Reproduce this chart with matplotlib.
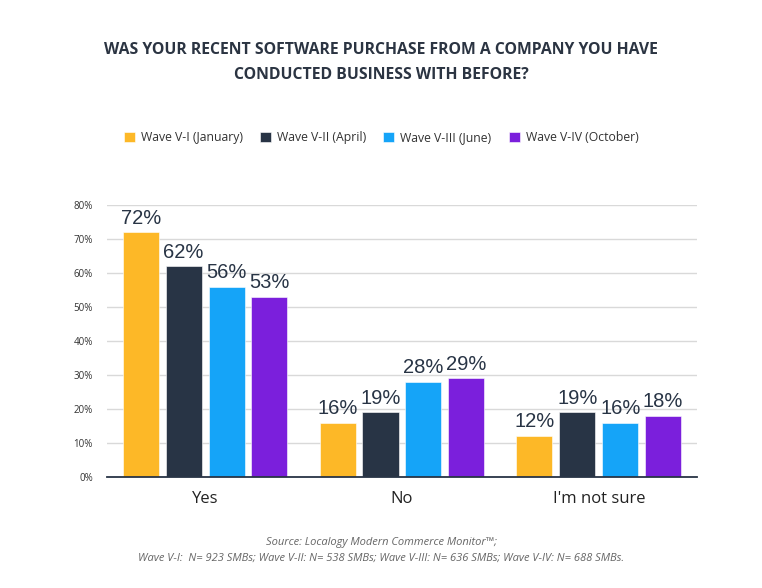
import matplotlib
matplotlib.use("Agg")
import matplotlib.pyplot as plt
import numpy as np

categories = ["Yes", "No", "I'm not sure"]
series_names = ["Wave V-I (January)", "Wave V-II (April)", "Wave V-III (June)", "Wave V-IV (October)"]
values = [
    [72, 16, 12],
    [62, 19, 19],
    [56, 28, 16],
    [53, 29, 18],
]
colors = ["#FDB827", "#283445", "#15A4F8", "#7B1FDC"]
yticks = [0, 10, 20, 30, 40, 50, 60, 70, 80]
title = "WAS YOUR RECENT SOFTWARE PURCHASE FROM A COMPANY YOU HAVE\nCONDUCTED BUSINESS WITH BEFORE?"
source1 = "Source: Localogy Modern Commerce Monitor\u2122;"
source2 = "Wave V-I:  N= 923 SMBs; Wave V-II: N= 538 SMBs; Wave V-III: N= 636 SMBs; Wave V-IV: N= 688 SMBs."

plt.rcParams['font.family'] = ['Open Sans', 'DejaVu Sans']

fig = plt.figure(figsize=(7.62, 5.88), dpi=100)
ax = fig.add_axes([0.140, 0.189, 0.775, 0.462])

x = np.arange(len(categories))
width = 0.183
step = 0.218
for i, (name, vals, c) in enumerate(zip(series_names, values, colors)):
    pos = x + (i - 1.5) * step
    ax.bar(pos, vals, width=width, color=c, label=name, zorder=3,
           edgecolor="#ffffff", linewidth=0.4)
    for p, v in zip(pos, vals):
        ax.text(p, v + 1.4, f"{v}%", ha="center", va="bottom", fontsize=14.5,
                family=["Liberation Sans", "DejaVu Sans"], color="#283445", zorder=4)

ax.set_xlim(-0.5, 2.5)
ax.set_ylim(0, 80)
ax.set_yticks(yticks)
ax.set_yticklabels([f"{t}%" for t in yticks], fontsize=7, color="#333333")
ax.set_xticks(x)
ax.set_xticklabels(categories, fontsize=12, color="#222222")
ax.tick_params(axis="both", length=0)
ax.tick_params(axis="y", pad=10)
ax.tick_params(axis="x", pad=10)
ax.grid(axis="y", color="#d9d9d9", linewidth=1, zorder=0)
for s in ["top", "right", "left"]:
    ax.spines[s].set_visible(False)
ax.spines["bottom"].set_color("#283445")
ax.spines["bottom"].set_linewidth(1.3)
ax.spines["bottom"].set_zorder(5)

fig.text(0.5, 0.894, title, ha="center", va="center", fontsize=11.3, fontweight="bold",
         color="#2b3442", linespacing=1.75)

fig.legend(loc="center", bbox_to_anchor=(0.5, 0.766), ncol=4, frameon=False,
           fontsize=8.8, handlelength=0.9, handleheight=0.9, handletextpad=0.5,
           columnspacing=1.4, labelcolor="#333333")

fig.text(0.5, 0.078, source1, ha="center", va="center", fontsize=8, style="italic", color="#666666")
fig.text(0.5, 0.050, source2, ha="center", va="center", fontsize=8, style="italic", color="#666666")

fig.savefig("out.png", dpi=100, facecolor="white")
